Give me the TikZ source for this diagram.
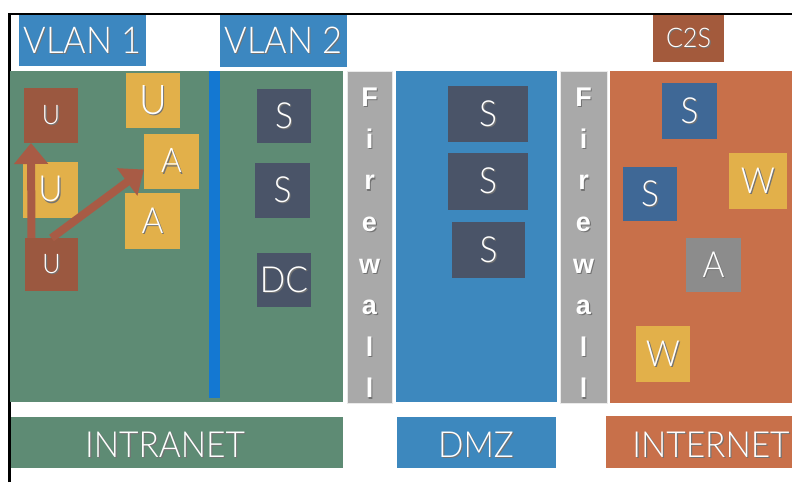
\documentclass[tikz,border=0pt]{standalone}
\usepackage{fontspec}
\setmainfont{Lato Light}[FakeStretch=0.93]
\newfontfamily\fwfont{Liberation Sans}
\usetikzlibrary{arrows.meta}
\definecolor{cIntra}{HTML}{5E8B74}
\definecolor{cBlue}{HTML}{3C87C0}
\definecolor{cStripe}{HTML}{1478D2}
\definecolor{cDmz}{HTML}{3D88BE}
\definecolor{cFw}{HTML}{A9A9A9}
\definecolor{cNet}{HTML}{C8704A}
\definecolor{cC2S}{HTML}{A35A3C}
\definecolor{cSlate}{HTML}{4A5468}
\definecolor{cSteel}{HTML}{3F6896}
\definecolor{cYel}{HTML}{E2B04A}
\definecolor{cBrown}{HTML}{9B5840}
\definecolor{cGrayA}{HTML}{8C8C8C}
\definecolor{cArrow}{HTML}{A85B45}
\newcommand\fs[1]{\fontsize{#1}{#1}\selectfont}
\newcommand\shd[1]{\rlap{\kern1.2pt\raisebox{-1.2pt}{\textcolor{black!55}{#1}}}#1}
\begin{document}
\begin{tikzpicture}[x=1pt,y=-1pt,
 panel/.style={inner sep=0pt, outer sep=0pt, anchor=north west},
 fwall/.style={panel, fill=cFw, draw=white!75!cFw, line width=0.8pt},
 tag/.style={panel, text=white, font=\fs{37}},
 lbltext/.style={inner sep=0pt, text=white, font=\fs{36}},
 box/.style={inner sep=0pt, outer sep=0pt, minimum width=55pt, minimum height=55pt, text=white, font=\fs{36}},
 fwtext/.style={anchor=north, inner sep=0pt, text=white, align=center, font=\fwfont\bfseries\fontsize{27}{41.6}\selectfont},
 arr/.style={draw=cArrow, line width=8pt, -{Triangle[width=33pt,length=21pt]}}]
\useasboundingbox (0,0) rectangle (792,482);
\fill[white] (0,0) rectangle (792,482);
\draw[line width=2.5pt] (9.5,482) -- (9.5,14) -- (792,14);
% top tags
\node[tag, fill=cBlue, minimum width=127pt, minimum height=51pt] (vlan1) at (19,15) {\shd{VLAN 1}};
\node[tag, fill=cBlue, minimum width=127pt, minimum height=52pt] (vlan2) at (220,15) {\shd{VLAN 2}};
\node[tag, fill=cC2S, minimum width=71pt, minimum height=47pt, font=\fs{27}] (c2s) at (653,15) {\shd{C2S}};
% panels
\node[panel, fill=cIntra, minimum width=333pt, minimum height=331pt] (intra) at (10,71) {};
\node[panel, fill=cStripe, minimum width=11pt, minimum height=327pt] (vline) at (209,71) {};
\node[fwall, minimum width=45pt, minimum height=332pt] (fw1) at (347,71) {};
\node[panel, fill=cDmz, minimum width=161pt, minimum height=331pt] (dmz) at (396,71) {};
\node[fwall, minimum width=47pt, minimum height=332pt] (fw2) at (560,71) {};
\node[panel, fill=cNet, minimum width=182pt, minimum height=332pt] (net) at (610,71) {};
% firewall letters
\node[fwtext] (fw1t) at (369.5,88) {\shd{F}\\\shd{i}\\\shd{r}\\\shd{e}\\\shd{w}\\\shd{a}\\\shd{l}\\\shd{l}};
\node[fwtext] (fw2t) at (583.5,88) {\shd{F}\\\shd{i}\\\shd{r}\\\shd{e}\\\shd{w}\\\shd{a}\\\shd{l}\\\shd{l}};
% bottom labels
\node[panel, fill=cIntra, minimum width=332pt, minimum height=51pt] (intraL) at (11,417) {};
\node[panel, fill=cDmz, minimum width=159pt, minimum height=51pt] (dmzL) at (397,417) {};
\node[panel, fill=cNet, minimum width=186pt, minimum height=52pt] (netL) at (606,416) {};
\node[lbltext] (intraT) at (165,445) {\shd{INTRANET}};
\node[lbltext] (dmzT) at (476,445) {\shd{DMZ}};
\node[lbltext] (netT) at (711,445) {\shd{INTERNET}};
% intranet boxes
\node[box, fill=cBrown, minimum width=54pt, font=\fs{27}] (uB1) at (51,115.5) {\shd{U}};
\node[box, fill=cYel, minimum width=54pt, font=\fs{41}] (uY1) at (153,100.5) {\shd{U}};
\node[box, fill=cYel, font=\fs{34}] (aY1) at (171.5,161.5) {\shd{A}};
\node[box, fill=cYel, minimum height=56pt, font=\fs{36}] (uY2) at (50.5,190) {\shd{U}};
\node[box, fill=cYel, minimum height=56pt, font=\fs{36}] (aY2) at (152.5,221) {\shd{A}};
\node[box, fill=cBrown, minimum width=53pt, minimum height=53pt, font=\fs{27}] (uB2) at (51.5,264.5) {\shd{U}};
\node[box, fill=cSlate, minimum width=54pt, minimum height=54pt] (s1) at (284,116) {\shd{S}};
\node[box, fill=cSlate] (s2) at (282.5,190.5) {\shd{S}};
\node[box, fill=cSlate, minimum width=54pt, minimum height=54pt] (dc) at (284,280) {\shd{DC}};
% dmz boxes
\node[box, fill=cSlate, minimum width=80pt, minimum height=56pt] (ds1) at (488,114) {\shd{S}};
\node[box, fill=cSlate, minimum width=80pt, minimum height=57pt] (ds2) at (488,181.5) {\shd{S}};
\node[box, fill=cSlate, minimum width=73pt, minimum height=56pt] (ds3) at (488.5,250) {\shd{S}};
% internet boxes
\node[box, fill=cSteel, minimum height=56pt] (ns1) at (689.5,111) {\shd{S}};
\node[box, fill=cYel, minimum width=58pt, minimum height=56pt] (nw1) at (758,181) {\shd{W}};
\node[box, fill=cSteel, minimum width=54pt, minimum height=54pt] (ns2) at (650,194) {\shd{S}};
\node[box, fill=cGrayA, minimum height=54pt] (na) at (713.5,265) {\shd{A}};
\node[box, fill=cYel, minimum width=54pt, minimum height=56pt] (nw2) at (663,354) {\shd{W}};
% arrows
\draw[arr] ([xshift=-20pt]uB2.north) -- ([xshift=-20pt]uB1.south);
\draw[arr] (uB2.north) -- ([yshift=-8pt]aY1.west);
\end{tikzpicture}
\end{document}
